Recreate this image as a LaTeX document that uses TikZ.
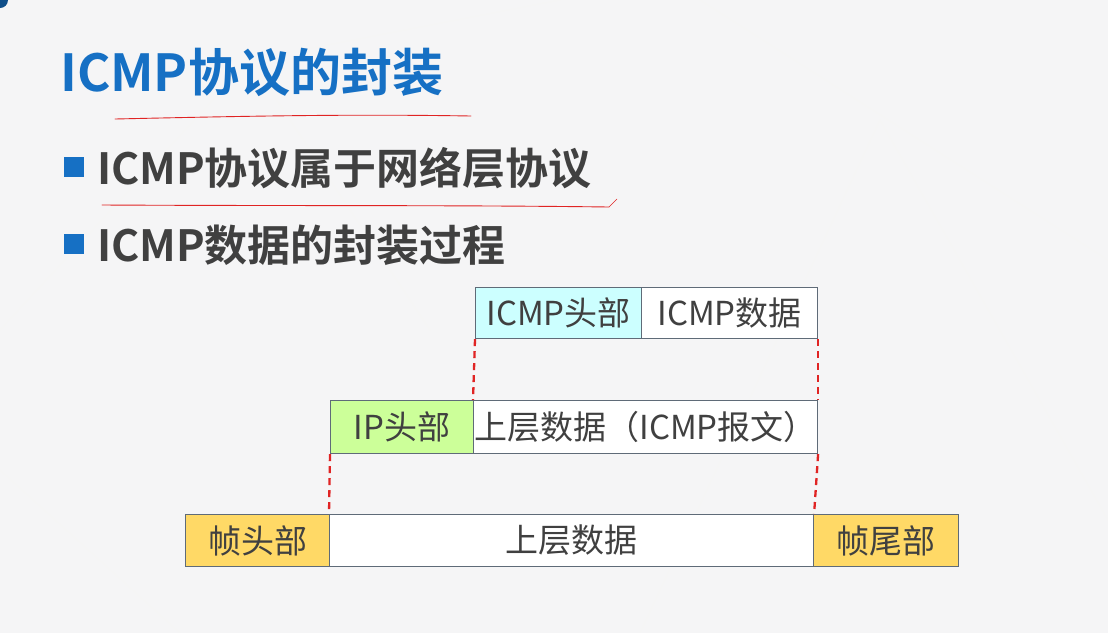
\documentclass[tikz,border=0pt]{standalone}
\usepackage{fontspec}
\setmainfont{Noto Sans CJK SC}[BoldFont={Noto Sans CJK SC Bold}]
\definecolor{bgc}{HTML}{F5F5F6}
\definecolor{titleblue}{HTML}{1670C4}
\definecolor{txtgray}{HTML}{404040}
\definecolor{boxline}{HTML}{5F6B78}
\definecolor{cyanfill}{HTML}{CCFFFF}
\definecolor{greenfill}{HTML}{CCFF99}
\definecolor{goldfill}{HTML}{FFD966}
\definecolor{penred}{HTML}{E02424}
\definecolor{bulletblue}{HTML}{1670C4}
\begin{document}
\begin{tikzpicture}[x=1pt,y=-1pt,
  cell/.style={draw=boxline,line width=1.1pt,rectangle,inner sep=0pt,
    font=\fontsize{33}{36}\selectfont,text=txtgray},
  guide/.style={draw=penred,line width=2.3pt,dash pattern=on 7pt off 5pt},
  penline/.style={draw=penred,line width=0.9pt,line cap=round},
  bullet/.style={fill=bulletblue,draw=none,minimum size=20pt,inner sep=0pt}]
\useasboundingbox (0,0) rectangle (1108,633);
\fill[bgc] (0,0) rectangle (1108,633);
% faint background lines
\begin{scope}[draw=black!4,line width=0.6pt]
\draw (0,330) -- (250,60) -- (560,0);
\draw (250,60) -- (430,330);
\draw (700,0) -- (1108,260);
\draw (880,120) -- (1108,520);
\draw (0,470) -- (180,633);
\draw (880,120) -- (640,633);
\end{scope}
\fill[titleblue!70!black] (0,0) circle (8);
% title
\node[anchor=west,text=titleblue,font=\bfseries\fontsize{51}{56}\selectfont,inner sep=0pt] (title) at (60,72) {ICMP协议的封装};
\draw[penline] (115,119) .. controls (250,116) and (350,114) .. (471,116);
% bullets
\node[bullet] (b1) at (74,167) {};
\node[anchor=west,text=txtgray,font=\bfseries\fontsize{43}{48}\selectfont,inner sep=0pt] (t1) at (97,168) {ICMP协议属于网络层协议};
\draw[penline] (102,205) .. controls (300,206) and (450,205) .. (609,207);
\draw[penline,line width=0.6pt] (609,207) -- (617,199);
\node[bullet] (b2) at (74,244) {};
\node[anchor=west,text=txtgray,font=\bfseries\fontsize{43}{48}\selectfont,inner sep=0pt] (t2) at (97,245) {ICMP数据的封装过程};
% row 1
\node[cell,fill=cyanfill,minimum width=166pt,minimum height=51pt,anchor=north west] (ih) at (475,287) {ICMP头部};
\node[cell,fill=white,minimum width=176pt,minimum height=51pt,anchor=north west] (id) at (641,287) {ICMP数据};
% row 2
\node[cell,fill=greenfill,minimum width=143pt,minimum height=53pt,anchor=north west] (iph) at (330,400) {IP头部};
\node[cell,fill=white,minimum width=344pt,minimum height=53pt,anchor=north west] (ipd) at (473,400) {上层数据（ICMP报文）};
% row 3
\node[cell,fill=goldfill,minimum width=144pt,minimum height=52pt,anchor=north west] (fh) at (185,514) {帧头部};
\node[cell,fill=white,minimum width=484pt,minimum height=52pt,anchor=north west] (fd) at (329,514) {上层数据};
\node[cell,fill=goldfill,minimum width=145pt,minimum height=52pt,anchor=north west] (ft) at (813,514) {帧尾部};
% guides
\draw[guide] (ih.south west) -- (ipd.north west);
\draw[guide] (id.south east) -- (ipd.north east);
\draw[guide] (iph.south west) -- (fd.north west);
\draw[guide] (ipd.south east) -- (fd.north east);
\end{tikzpicture}
\end{document}
